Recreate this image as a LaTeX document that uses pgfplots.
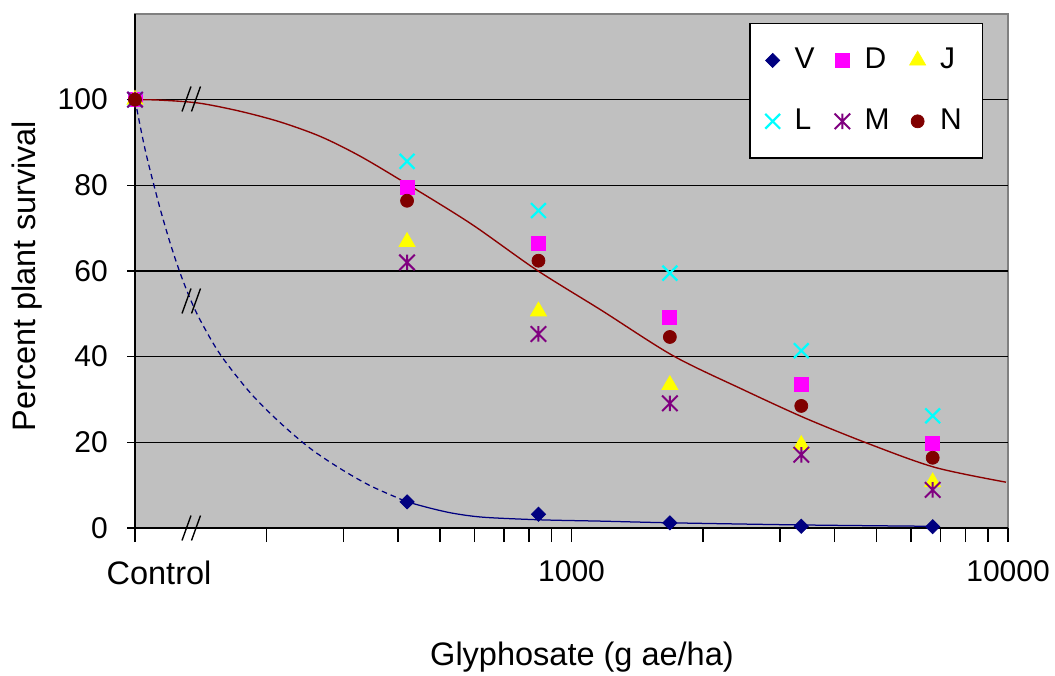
\documentclass[border=0pt]{standalone}
\usepackage{fontspec}
\setmainfont{Liberation Sans}
\usepackage{pgfplots}
\pgfplotsset{compat=1.18}
\usetikzlibrary{plotmarks}

\definecolor{plotgray}{HTML}{C0C0C0}
\definecolor{cV}{HTML}{000080}
\definecolor{cD}{HTML}{FF00FF}
\definecolor{cJ}{HTML}{FFFF00}
\definecolor{cL}{HTML}{00FFFF}
\definecolor{cM}{HTML}{800080}
\definecolor{cN}{HTML}{800000}
\definecolor{fitred}{HTML}{8B0000}

% x with a vertical bar, like the spreadsheet asterisk
\pgfdeclareplotmark{xast}{%
  \pgfpathmoveto{\pgfqpoint{-\pgfplotmarksize}{-\pgfplotmarksize}}%
  \pgfpathlineto{\pgfqpoint{\pgfplotmarksize}{\pgfplotmarksize}}%
  \pgfpathmoveto{\pgfqpoint{-\pgfplotmarksize}{\pgfplotmarksize}}%
  \pgfpathlineto{\pgfqpoint{\pgfplotmarksize}{-\pgfplotmarksize}}%
  \pgfpathmoveto{\pgfqpoint{0pt}{-\pgfplotmarksize}}%
  \pgfpathlineto{\pgfqpoint{0pt}{\pgfplotmarksize}}%
  \pgfusepathqstroke}

\pgfplotsset{mk/.style={only marks,
  legend image code/.code={\draw[##1] plot coordinates {(0pt,0pt)};}}}

\begin{document}
\begin{tikzpicture}
\useasboundingbox (-54pt,-58.8pt) rectangle (368pt,211.2pt);
\begin{axis}[
  scale only axis, width=349.2pt, height=205.6pt,
  xmode=log, xmin=100, xmax=10000, ymin=0, ymax=120,
  axis x line*=bottom, axis y line*=left,
  axis line style={-, black, line width=0.6pt},
  axis background/.style={fill=plotgray, draw=gray, line width=0.8pt},
  xtick={1000,10000}, xticklabels={1000,10000},
  minor xtick={200,300,400,500,600,700,800,900,2000,3000,4000,5000,6000,7000,8000,9000},
  extra x ticks={100}, extra x tick labels={Control},
  extra x tick style={xticklabel style={xshift=9.6pt, font=\fontsize{13}{15}\selectfont}},
  ytick={0,20,...,100},
  ymajorgrids, major grid style={black, line width=0.55pt},
  tick align=outside, major tick length=5.6pt, minor tick length=5.6pt,
  tick style={black, line width=0.6pt},
  ytick style={/pgfplots/major tick length=3.2pt},
  /pgf/number format/assume math mode=true,
  tick label style={font=\fontsize{12}{14}\selectfont},
  xticklabel style={yshift=-4pt},
  yticklabel style={xshift=-1.8pt},
  label style={font=\fontsize{13}{15}\selectfont},
  xlabel={Glyphosate (g ae/ha)},
  ylabel={Percent plant survival},
  xlabel style={at={(axis description cs:0.512,-0.251)}, anchor=center},
  ylabel style={at={(axis description cs:-0.124,0.49)}, anchor=center},
  legend columns=3, legend cell align=left,
  legend style={at={(axis description cs:0.9714,0.9825)}, anchor=north east,
    draw=black, fill=white, line width=0.6pt, font=\fontsize{12}{14}\selectfont,
    inner xsep=6.2pt, inner ysep=7.8pt, row sep=10.6pt,
    nodes={inner sep=2pt},
    /tikz/every odd column/.append style={column sep=3.8pt},
    /tikz/every even column/.append style={column sep=6pt}},
]
\addplot[mk, mark=square*, mark size=2pt, mark options={rotate=45, draw=cV, fill=cV, line width=0.3pt}]
  coordinates {(100,100) (420,6.1) (840,3.2) (1680,1.2) (3360,0.4) (6720,0.3)};
\addlegendentry{V}
\addplot[mk, mark=square*, mark size=2.8pt, mark options={draw=cD, fill=cD, line width=0.3pt}]
  coordinates {(100,100) (420,79.5) (840,66.4) (1680,49.2) (3360,33.6) (6720,19.7)};
\addlegendentry{D}
\addplot[mk, mark=triangle*, mark size=3.7pt, mark options={draw=cJ, fill=cJ, line width=0.3pt}]
  coordinates {(100,100) (420,66.8) (840,50.6) (1680,33.4) (3360,19.4) (6720,10.7)};
\addlegendentry{J}
\addplot[mk, mark=x, mark size=4.2pt, mark options={draw=cL, line width=0.9pt}]
  coordinates {(100,100) (420,85.6) (840,74.1) (1680,59.5) (3360,41.4) (6720,26.2)};
\addlegendentry{L}
\addplot[mk, mark=xast, mark size=3.1pt, mark options={draw=cM, line width=0.8pt}]
  coordinates {(100,100) (420,62.0) (840,45.3) (1680,29.1) (3360,17.1) (6720,8.9)};
\addlegendentry{M}
\addplot[mk, mark=*, mark size=2.6pt, mark options={draw=cN, fill=cN, line width=0.3pt}]
  coordinates {(100,100) (420,76.4) (840,62.4) (1680,44.6) (3360,28.5) (6720,16.4)};
\addlegendentry{N}

% fitted curves
\addplot[forget plot, fitred, line width=0.55pt, smooth, no marks]
  coordinates {(100,100) (114,99.9) (140,99.2) (174,97.3) (215,94.8) (266,91.4)
    (328,86.8) (420,80.3) (589,71.0) (830,60.3) (1172,50.8) (1710,40.2)
    (2460,32.4) (3440,25.6) (4870,19.4) (6830,14.1) (9890,10.7)};
\addplot[forget plot, cV, line width=0.5pt, smooth, no marks, dash pattern=on 2.2pt off 1.6pt]
  coordinates {(100,100) (102.7,94.0) (105.4,88.5) (108.3,83.5) (114.2,74.5)
    (120.4,66.5) (126.9,59.5) (133.8,53.5) (141.1,48.5) (156.8,40.5) (183.9,31.5)
    (215.4,24.5) (252.6,18.5) (296.0,13.8) (347.0,9.8) (420,6.1)};
\addplot[forget plot, cV, line width=0.5pt, smooth, no marks]
  coordinates {(420,6.1) (476,4.6) (538,3.4) (631,2.5) (853,1.9) (1172,1.6)
    (1710,1.2) (3440,0.7) (6720,0.4)};
\end{axis}
% axis break marks
\foreach \yy in {0pt,90.8pt,171.6pt} {
  \draw[black, line width=0.55pt, shift={(0pt,\yy)}]
    (18.8pt,-5pt) -- (22.4pt,5pt) (22.6pt,-5pt) -- (26.2pt,5pt);
}
\end{tikzpicture}
\end{document}
